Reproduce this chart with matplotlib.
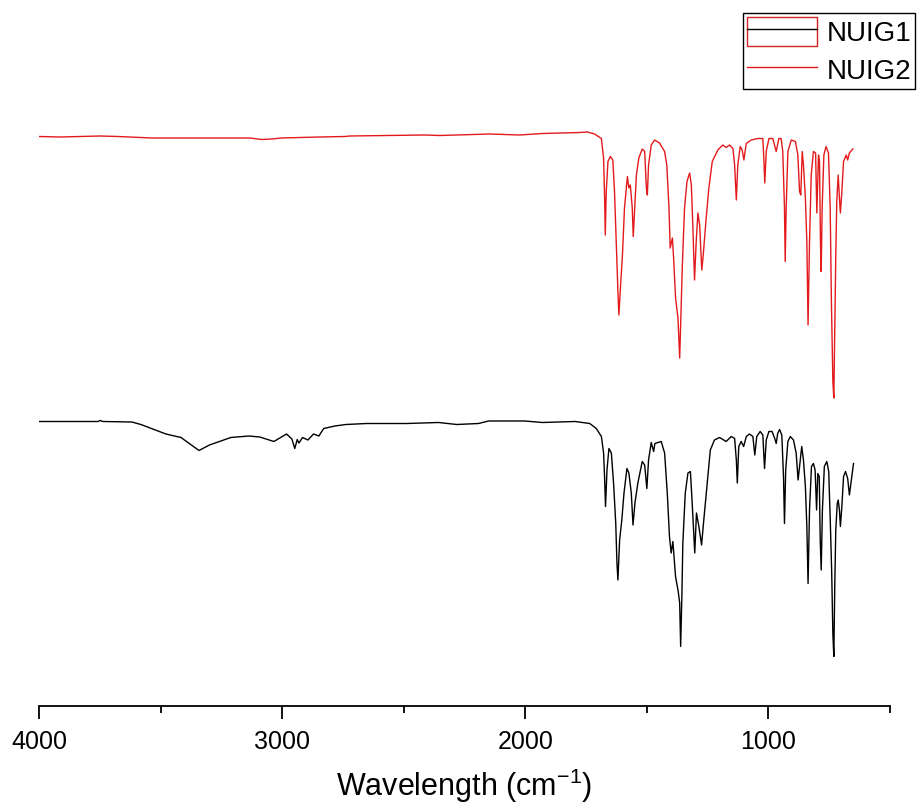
import matplotlib
matplotlib.use("Agg")
import matplotlib.pyplot as plt
from matplotlib.lines import Line2D
from matplotlib.patches import Rectangle
from matplotlib.legend_handler import HandlerTuple

plt.rcParams['font.family'] = ['Liberation Sans', 'DejaVu Sans']
plt.rcParams['mathtext.fontset'] = 'custom'
plt.rcParams['mathtext.rm'] = 'Liberation Sans'
plt.rcParams['mathtext.it'] = 'Liberation Sans:italic'
plt.rcParams['mathtext.bf'] = 'Liberation Sans:bold'

# ---------------- data (wavenumber cm^-1, transmittance, arbitrary offset units) ----
nuig2_wn = [4000, 3914, 3831, 3749, 3675, 3536, 3338, 3133, 3083, 3042, 3005, 2845, 2742,
            2722, 2414, 2352, 2146, 2023, 1929, 1777, 1744, 1715,
            1687, 1678, 1674, 1671, 1667, 1660, 1650, 1640, 1633, 1626, 1619, 1615, 1608,
            1601, 1592, 1580, 1574, 1568, 1560, 1556, 1550, 1543, 1533, 1519, 1509, 1502,
            1498, 1493, 1482, 1468, 1448, 1427, 1418, 1409, 1404, 1395, 1390, 1382, 1372,
            1365, 1361, 1354, 1345, 1335, 1324, 1317, 1311, 1304, 1297, 1290, 1283, 1274,
            1267, 1256, 1245, 1231, 1208, 1188, 1174, 1160, 1146, 1139, 1132, 1126, 1116,
            1108, 1101, 1091, 1071, 1044, 1023, 1019, 1015, 1009, 998, 982, 975, 968, 957,
            948, 941, 934, 931, 927, 920, 906, 889, 879, 872, 867, 861, 856, 848, 842, 837,
            831, 824, 815, 806, 801, 794, 790, 786, 783, 779, 772, 763, 753, 746, 741, 735,
            731, 727, 723, 719, 713, 708, 704, 698, 691, 680, 674, 667, 653]
nuig2_t = [113.9, 113.8, 113.9, 114.0, 113.9, 113.6, 113.6, 113.6, 113.3, 113.4, 113.6, 113.8, 113.9,
           114.0, 114.2, 114.1, 114.4, 114.2, 114.5, 114.7, 114.8, 114.4,
           113.5, 109.6, 102.2, 94.2, 102.9, 108.9, 109.9, 109.2, 102.9, 92.9, 82.9, 78.2, 84.2,
           89.6, 99.6, 105.9, 103.6, 104.2, 99.6, 93.9, 99.6, 106.2, 109.6, 111.4, 110.9, 103.6,
           102.2, 108.2, 112.2, 113.2, 112.6, 110.9, 108.2, 99.6, 91.6, 93.6, 89.6, 81.6, 77.6,
           69.6, 76.2, 88.2, 99.6, 104.9, 106.6, 104.2, 96.2, 85.2, 92.9, 98.6, 96.2, 87.2,
           90.9, 97.6, 103.6, 108.9, 111.2, 112.2, 111.7, 112.2, 111.5, 108.2, 101.2, 108.2, 111.9,
           111.2, 109.2, 112.5, 113.2, 113.5, 113.5, 109.6, 104.6, 110.9, 113.5, 113.5, 112.2, 110.9, 113.5,
           113.5, 110.9, 99.6, 88.9, 99.6, 110.9, 113.2, 112.9, 110.2, 102.9, 102.2, 110.9, 108.2, 101.6, 92.9, 76.2,
           92.9, 106.2, 110.9, 110.6, 98.6, 110.2, 108.9, 92.9, 86.9, 99.6, 110.2, 111.9, 110.6, 99.6, 80.9, 64.9,
           61.6, 76.2, 90.2, 100.9, 106.2, 101.6, 98.6, 102.9, 108.9, 110.2, 109.2, 110.6, 111.4]

nuig1_wn = [4000, 3757, 3749, 3737, 3618, 3581, 3478, 3416, 3342, 3299, 3211, 3137, 3092,
            3034, 2982, 2960, 2948, 2938, 2931, 2916, 2894, 2871, 2849, 2829, 2783, 2738,
            2652, 2488, 2356, 2282, 2192, 2151, 2003, 1929, 1795, 1735,
            1708, 1687, 1678, 1674, 1670, 1664, 1656, 1646, 1637, 1628, 1623, 1619, 1612,
            1603, 1594, 1582, 1574, 1564, 1557, 1549, 1537, 1519, 1509, 1500, 1493, 1482,
            1472, 1467, 1441, 1427, 1416, 1407, 1400, 1393, 1382, 1371, 1365, 1361, 1356,
            1352, 1342, 1331, 1321, 1315, 1308, 1303, 1296, 1286, 1275, 1267, 1253, 1239,
            1222, 1201, 1174, 1153, 1139, 1132, 1128, 1122, 1112, 1102, 1091, 1078, 1064,
            1056, 1048, 1034, 1023, 1016, 1009, 998, 985, 974, 968, 962, 954, 945, 938, 934,
            929, 920, 910, 897, 886, 878, 869, 863, 856, 848, 842, 837, 831, 823, 815, 808,
            802, 797, 791, 787, 783, 778, 770, 760, 752, 745, 740, 735, 731, 727, 723, 717,
            713, 708, 704, 698, 691, 683, 674, 667, 659, 650]
nuig1_t = [56.9, 56.9, 57.1, 56.9, 56.8, 56.3, 54.4, 53.7, 51.1, 52.2, 53.7, 54.0, 53.8,
           52.9, 54.4, 53.4, 51.5, 53.3, 52.6, 53.7, 53.2, 54.4, 54.0, 55.5, 56.0, 56.3,
           56.5, 56.5, 56.7, 56.3, 56.5, 57.0, 57.0, 56.7, 56.9, 56.5,
           55.5, 53.9, 50.6, 45.9, 39.9, 47.2, 51.5, 50.6, 44.6, 36.6, 28.6, 25.2, 33.2,
           37.2, 42.6, 47.5, 46.6, 42.6, 36.2, 40.6, 44.6, 48.9, 48.2, 43.5, 49.2, 52.7,
           50.9, 52.5, 52.9, 50.6, 42.6, 33.9, 30.6, 32.9, 25.9, 22.9, 20.6, 11.9, 21.9,
           32.6, 42.6, 46.6, 46.9, 41.9, 35.2, 30.6, 38.6, 35.9, 32.2, 36.6, 43.9, 51.2,
           53.2, 53.7, 52.9, 53.9, 53.5, 49.2, 44.6, 51.9, 52.9, 51.9, 53.9, 54.4, 53.9,
           50.2, 53.9, 54.9, 54.2, 47.5, 53.2, 54.9, 54.9, 53.5, 52.5, 54.5, 55.3, 54.2, 45.9, 36.5,
           47.2, 52.9, 53.9, 53.2, 50.6, 45.2, 49.2, 51.9, 49.2, 43.9, 35.9, 24.5, 39.2, 47.9, 48.5, 47.2,
           39.2, 46.5, 45.9, 33.2, 27.2, 39.2, 47.9, 48.9, 46.9, 35.9, 27.2, 14.5, 9.9, 24.5, 35.2, 40.5,
           41.2, 39.2, 35.9, 39.9, 45.9, 46.9, 45.5, 42.2, 45.2, 48.5]

series_names = ["NUIG1", "NUIG2"]
x_major = [4000, 3000, 2000, 1000]
x_minor = [3500, 2500, 1500, 500]

# ---------------- figure ----------------
W, H = 921, 809
fig = plt.figure(figsize=(W / 100, H / 100), dpi=100)
ax = fig.add_axes([39 / W, (H - 706) / H, (890 - 39) / W, 600 / H])

ax.plot(nuig1_wn, nuig1_t, color='black', lw=1.0)
ax.plot(nuig2_wn, nuig2_t, color='#e31a1c', lw=1.0)

ax.set_xlim(4000, 500)
ax.set_ylim(0, 120)

for s in ['left', 'right', 'top']:
    ax.spines[s].set_visible(False)
ax.spines['bottom'].set_linewidth(1.3)
ax.set_yticks([])
ax.set_xticks(x_major)
ax.set_xticks(x_minor, minor=True)
ax.tick_params(axis='x', which='major', length=9.5, width=1.3, direction='out',
               labelsize=18, pad=8)
ax.tick_params(axis='x', which='minor', length=5.3, width=1.3, direction='out')
ax.set_xlabel(r'Wavelength (cm$^{-1}$)', fontsize=22, labelpad=9)

# legend
h1 = Line2D([], [], color='black', lw=1.0)
box = Rectangle((0, 0), 1, 1, facecolor='none', edgecolor='#d62020', lw=1.0)
h2 = Line2D([], [], color='#e31a1c', lw=1.0)
leg = ax.legend([(box, h1), h2], series_names,
                handler_map={tuple: HandlerTuple(ndivide=1)},
                loc='upper left', bbox_to_anchor=(743 / W, 1 - 13 / H),
                bbox_transform=fig.transFigure, borderaxespad=0,
                fontsize=20, frameon=True, fancybox=False, framealpha=1,
                edgecolor='black', handlelength=2.5, handleheight=1.2,
                handletextpad=0.35, labelspacing=0.3, borderpad=0.15)
leg.get_frame().set_linewidth(1.0)

fig.savefig('out.png', dpi=100)
